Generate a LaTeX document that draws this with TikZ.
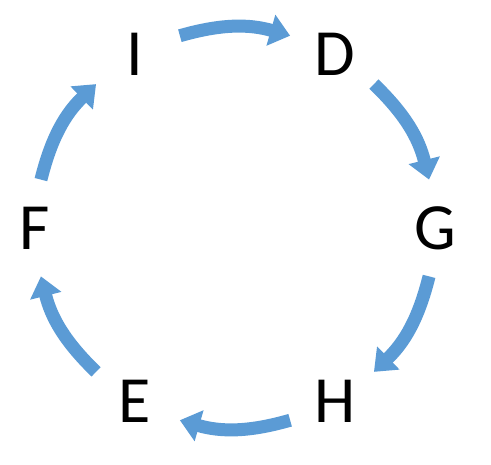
\documentclass[tikz,border=0pt]{standalone}
\usepackage{fontspec}
\setmainfont{Carlito}
\usepackage{tikz}
\usetikzlibrary{arrows.meta,calc}
\definecolor{cyc}{HTML}{5B9BD5}
\tikzset{
  letter/.style={inner sep=0pt,font=\fontsize{66}{70}\selectfont},
  cyarr/.style={draw=cyc,line width=13pt,-{Triangle[width=31pt,length=20pt]}},
}

\begin{document}
\begin{tikzpicture}[x=1pt,y=1pt]
\useasboundingbox (0,0) rectangle (491,465);
\coordinate (c) at (235,237);
\node[letter] (I) at ($(c)+(120:200)$) {I};
\node[letter] (D) at ($(c)+(60:200)$) {D};
\node[letter] (G) at ($(c)+(0:200)$) {G};
\node[letter] (H) at ($(c)+(-60:200)$) {H};
\node[letter] (E) at ($(c)+(-120:200)$) {E};
\node[letter] (F) at ($(c)+(180:200)$) {F};
% arcs round the ring, 14 degrees clear of each letter
\draw[cyarr] ($(c)!1!-14:(I)$) to[bend left=16] ($(c)!1!14:(D)$);
\draw[cyarr] ($(c)!1!-14:(D)$) to[bend left=16] ($(c)!1!14:(G)$);
\draw[cyarr] ($(c)!1!-14:(G)$) to[bend left=16] ($(c)!1!14:(H)$);
\draw[cyarr] ($(c)!1!-14:(H)$) to[bend left=16] ($(c)!1!14:(E)$);
\draw[cyarr] ($(c)!1!-14:(E)$) to[bend left=16] ($(c)!1!14:(F)$);
\draw[cyarr] ($(c)!1!-14:(F)$) to[bend left=16] ($(c)!1!14:(I)$);
\end{tikzpicture}
\end{document}
